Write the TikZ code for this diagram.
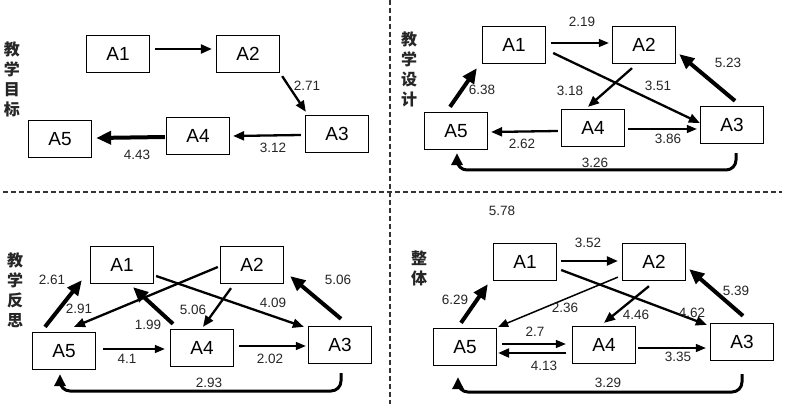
\documentclass[tikz,border=0pt]{standalone}
\usepackage{fontspec}
\setmainfont{Liberation Sans}
\newfontfamily\cjk{Noto Sans CJK SC}
\usetikzlibrary{arrows.meta,calc}
\begin{document}
\begin{tikzpicture}[x=1pt,y=-1pt,
  box/.style={draw, line width=1.3pt, minimum width=63pt, minimum height=37pt, inner sep=0pt, font=\fontsize{19}{22}\selectfont},
  lab/.style={font=\fontsize{13.5}{16}\selectfont, inner sep=0pt, text=black!85},
  ttl/.style={font=\cjk\bfseries\fontsize{16}{20}\selectfont, align=center, inner sep=0pt, text=black!85},
  wA/.style={line width=1.5pt, -{Triangle[length=10pt,width=8pt]}},
  wB/.style={line width=2.3pt, -{Triangle[length=11pt,width=9pt]}},
  wC/.style={line width=4pt, -{Triangle[length=15pt,width=13pt]}},
  loop/.style={line width=3pt, rounded corners=10pt, -{Triangle[length=12pt,width=11pt]}},
  sep/.style={line width=1.3pt, dash pattern=on 5pt off 3pt, black!80}
]
\useasboundingbox (0,0) rectangle (789,406);
% separators
\coordinate (h1) at (3,192);
\coordinate (h2) at (782,192);
\coordinate (v1) at (390,0);
\coordinate (v2) at (390,404);
\draw[sep] (h1) -- (h2);
\draw[sep] (v1) -- (v2);

% ---------- top left ----------
\node[ttl] (tl-t) at (12,79) {教\\学\\目\\标};
\node[box] (tl-A1) at (118,54) {A1};
\node[box] (tl-A2) at (248,54) {A2};
\node[box] (tl-A3) at (337,134) {A3};
\node[box] (tl-A4) at (198,136) {A4};
\node[box] (tl-A5) at (60,139) {A5};
\draw[wB] ($(tl-A1.east)+(5,-5)$) -- ($(tl-A2.west)+(-4,-5)$);
\draw[wB] ($(tl-A2.south east)+(2,3)$) -- ($(tl-A3.north west)+(1,-3)$);
\draw[wB] ($(tl-A3.west)+(-4,1)$) -- ($(tl-A4.east)+(3,0)$);
\draw[wC] ($(tl-A4.west)+(-1,1)$) -- ($(tl-A5.east)+(4,-1)$);
\node[lab] (tl-l1) at (307,86) {2.71};
\node[lab] (tl-l2) at (273,148) {3.12};
\node[lab] (tl-l3) at (137,155) {4.43};

% ---------- top right ----------
\node[ttl] (tr-t) at (409,69) {教\\学\\设\\计};
\node[box] (tr-A1) at (514,45) {A1};
\node[box] (tr-A2) at (644,45) {A2};
\node[box] (tr-A3) at (732,125) {A3};
\node[box] (tr-A4) at (593,128) {A4};
\node[box] (tr-A5) at (456,131) {A5};
\draw[wA] ($(tr-A1.east)+(5,-2)$) -- ($(tr-A2.west)+(-3,-2)$);
\draw[wB] ($(tr-A1.east)+(7,8)$) -- ($(tr-A3.west)+(0,-2)$);
\draw[wB] ($(tr-A2.south)+(-12,4)$) -- ($(tr-A4.north)+(-5,-2)$);
\draw[wC] ($(tr-A3.north)+(3,-5)$) -- ($(tr-A2.south east)+(3,-10)$);
\draw[wB] ($(tr-A4.west)+(-3,3)$) -- ($(tr-A5.east)+(3,1)$);
\draw[wA] ($(tr-A4.east)+(3,1)$) -- ($(tr-A3.west)+(-3,4)$);
\draw[wC] ($(tr-A5.north)+(-6,-5)$) -- ($(tr-A1.south west)+(-5,4)$);
\coordinate (tr-s) at ($(tr-A3.south)+(4,9)$);
\coordinate (tr-e) at ($(tr-A5.south)+(1,3)$);
\coordinate (tr-b) at (0,170);
\draw[loop] (tr-s) -- (tr-s |- tr-b) -- (tr-e |- tr-b) -- (tr-e);
\node[lab] (tr-l1) at (582,22) {2.19};
\node[lab] (tr-l2) at (658,86) {3.51};
\node[lab] (tr-l3) at (570,91) {3.18};
\node[lab] (tr-l4) at (728,63) {5.23};
\node[lab] (tr-l5) at (522,144) {2.62};
\node[lab] (tr-l6) at (668,139) {3.86};
\node[lab] (tr-l7) at (482,90) {6.38};
\node[lab] (tr-l8) at (595,163) {3.26};

% ---------- bottom left ----------
\node[ttl] (bl-t) at (15,290) {教\\学\\反\\思};
\node[box] (bl-A1) at (122,265) {A1};
\node[box] (bl-A2) at (252,265) {A2};
\node[box] (bl-A3) at (340,345) {A3};
\node[box] (bl-A4) at (202,348) {A4};
\node[box] (bl-A5) at (64,351) {A5};
\draw[wC] ($(bl-A5.north)+(-19,-5)$) -- ($(bl-A1.south west)+(-8,-4)$);
\draw[wB] ($(bl-A2.west)+(-2,2)$) -- ($(bl-A5.north)+(10,-5)$);
\draw[wC] ($(bl-A4.north)+(-29,-5)$) -- ($(bl-A1.south)+(11,3)$);
\draw[wB] ($(bl-A1.east)+(2,11)$) -- ($(bl-A3.north west)+(-4,1)$);
\draw[wB] ($(bl-A2.south)+(-21,4)$) -- ($(bl-A4.north)+(1,-2)$);
\draw[wC] ($(bl-A3.north)+(1,-7)$) -- ($(bl-A2.south east)+(6,-8)$);
\draw[wA] ($(bl-A5.east)+(7,-2)$) -- ($(bl-A4.west)+(-5,1)$);
\draw[wA] ($(bl-A4.east)+(5,-2)$) -- ($(bl-A3.west)+(-2,1)$);
\coordinate (bl-s) at ($(bl-A3.south)+(1,9)$);
\coordinate (bl-e) at ($(bl-A5.south)+(-4,4)$);
\coordinate (bl-b) at (0,391);
\draw[loop] (bl-s) -- (bl-s |- bl-b) -- (bl-e |- bl-b) -- (bl-e);
\node[lab] (bl-l1) at (52,280) {2.61};
\node[lab] (bl-l2) at (79,309) {2.91};
\node[lab] (bl-l3) at (148,325) {1.99};
\node[lab] (bl-l4) at (273,303) {4.09};
\node[lab] (bl-l5) at (193,310) {5.06};
\node[lab] (bl-l6) at (338,280) {5.06};
\node[lab] (bl-l7) at (127,359) {4.1};
\node[lab] (bl-l8) at (270,359) {2.02};
\node[lab] (bl-l9) at (209,383) {2.93};

% ---------- bottom right ----------
\node[ttl] (br-t) at (419,268) {整\\体};
\node[box] (br-A1) at (525,262) {A1};
\node[box] (br-A2) at (654,262) {A2};
\node[box] (br-A3) at (742,342) {A3};
\node[box] (br-A4) at (604,345) {A4};
\node[box] (br-A5) at (465,347) {A5};
\draw[wB] ($(br-A1.east)+(4,-1)$) -- ($(br-A2.west)+(-4,-1)$);
\draw[wB] ($(br-A1.east)+(4,8)$) -- ($(br-A3.north west)+(-3,2)$);
\draw[wA] ($(br-A2.south west)+(-4,-4)$) -- ($(br-A5.north east)+(1,-1)$);
\draw[wB] ($(br-A2.south)+(-5,5)$) -- ($(br-A4.north)+(0,-3)$);
\draw[wC] ($(br-A3.north)+(1,-7)$) -- ($(br-A2.south east)+(3,-12)$);
\draw[wC] ($(br-A5.north)+(-4,-5)$) -- ($(br-A1.south west)+(-5,3)$);
\draw[wA] ($(br-A5.east)+(5,-3)$) -- ($(br-A4.west)+(-6,-1)$);
\draw[wB] ($(br-A4.west)+(-6,8)$) -- ($(br-A5.east)+(1,6)$);
\draw[wA] ($(br-A4.east)+(2,3)$) -- ($(br-A3.west)+(-4,6)$);
\coordinate (br-s) at ($(br-A3.south)+(0,13)$);
\coordinate (br-e) at ($(br-A5.south)+(-7,11)$);
\coordinate (br-b) at (0,392);
\draw[loop] (br-s) -- (br-s |- br-b) -- (br-e |- br-b) -- (br-e);
\node[lab] (br-l0) at (502,211) {5.78};
\node[lab] (br-l1) at (588,243) {3.52};
\node[lab] (br-l2) at (692,313) {4.62};
\node[lab] (br-l3) at (565,308) {2.36};
\node[lab] (br-l4) at (636,315) {4.46};
\node[lab] (br-l5) at (736,291) {5.39};
\node[lab] (br-l6) at (455,300) {6.29};
\node[lab] (br-l7) at (535,332) {2.7};
\node[lab] (br-l8) at (544,366) {4.13};
\node[lab] (br-l9) at (678,357) {3.35};
\node[lab] (br-l10) at (608,383) {3.29};
\end{tikzpicture}
\end{document}
